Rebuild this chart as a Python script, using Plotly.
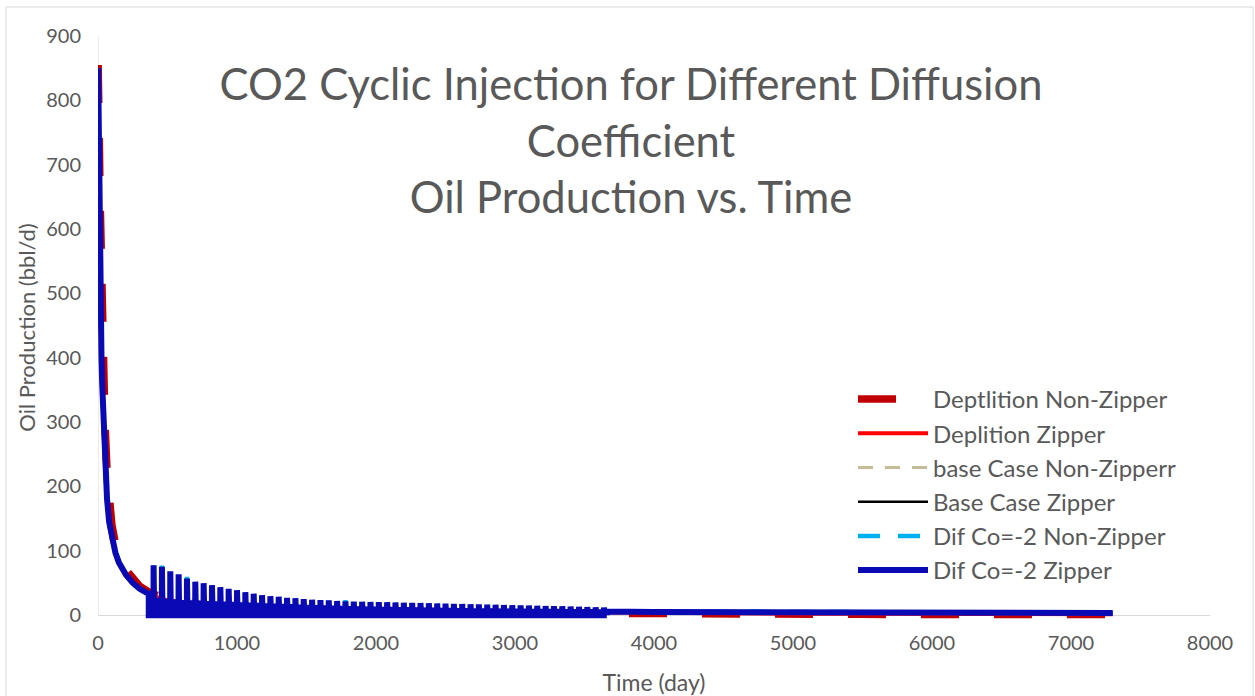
import plotly.graph_objects as go

# ---------------- data ----------------
early_days = [1, 3, 6, 10, 15, 20, 25, 30, 40, 50, 65, 80, 100, 125, 150, 200, 250, 300, 365]
# CO2 cases share the primary-depletion period before the first cycle
co2_early = [850, 790, 700, 600, 510, 450, 400, 360, 290, 235, 180, 145, 118, 97, 82, 63, 50, 41, 33]

dep_days = early_days + [500, 730, 1000, 1500, 2000, 2500, 3000, 3650, 4000, 4500, 5000,
                         5500, 6000, 6500, 7000, 7300]
dep_nz = [855, 840, 800, 730, 650, 580, 520, 465, 370, 300, 225, 178, 140, 112, 94, 71, 56, 45, 36,
          24, 16.5, 12, 8.5, 6.5, 5.0, 3.8, 2.8, 2.0, 1.7, 1.4, 1.2, 1.1, 1.0, 0.9, 0.9, 0.8]
dep_z = [845, 785, 695, 595, 505, 445, 395, 355, 285, 230, 176, 142, 116, 95, 80, 62, 49, 40, 32,
         23, 16, 12, 8.8, 7, 5.8, 4.9, 4.0, 3.0, 2.6, 2.3, 2.0, 1.8, 1.6, 1.5, 1.4]

# cyclic CO2 injection: 60-day cycles from day 365 to day 3665
cycle_start = [365 + 60 * k for k in range(55)]
dz_peak = [77.6, 75, 68, 63.5, 57, 52, 49.7, 46.6, 43.5, 41,
           38.8, 35.7, 33.4, 31, 29.5, 28.7, 27, 26.4, 25, 24,
           23.3, 23, 22, 21.5, 21, 20.8, 20.5, 20.2, 20, 19.7,
           19.4, 19.1, 18.8, 18.5, 18.2, 17.9, 17.6, 17.3, 17, 16.7,
           16.4, 16.1, 15.8, 15.5, 15.2, 14.9, 14.6, 14.3, 14, 13.7,
           13.4, 13.1, 12.7, 12.3, 11.8]
dnz_peak = [77, 77, 67.5, 63, 59.5, 51.5, 49.2, 46, 43, 40.5,
            38.3, 35.2, 33, 30.5, 29, 28.2, 26.5, 26, 24.5, 23.5,
            22.8, 22.5, 21.5, 23.5, 20.5, 20.3, 20, 19.7, 19.5, 19.2,
            18.9, 18.6, 18.3, 18, 17.7, 17.4, 17.1, 16.8, 16.5, 16.2,
            15.9, 15.6, 15.3, 15, 14.7, 14.4, 14.1, 13.8, 13.5, 13.2,
            12.9, 12.6, 12.2, 11.8, 11.3]
bz_peak = [70, 68, 62, 58, 52, 48, 45.5, 43, 40, 37.8,
           35.5, 33, 31, 29, 27.5, 26.5, 25, 24.3, 23, 22.2,
           21.5, 21.1, 20.3, 19.8, 19.4, 19.1, 18.8, 18.5, 18.3, 18,
           17.7, 17.4, 17.1, 16.8, 16.5, 16.2, 15.9, 15.6, 15.3, 15,
           14.7, 14.4, 14.1, 13.8, 13.5, 13.2, 12.9, 12.6, 12.3, 12,
           11.7, 11.4, 11.1, 10.8, 10.4]
bnz_peak = [69, 67, 61, 57, 51, 47, 44.5, 42, 39, 37,
            34.8, 32.4, 30.4, 28.5, 27, 26, 24.6, 23.9, 22.6, 21.8,
            21.1, 20.7, 19.9, 19.4, 19, 18.7, 18.4, 18.1, 17.9, 17.6,
            17.3, 17, 16.7, 16.4, 16.1, 15.8, 15.5, 15.2, 14.9, 14.6,
            14.3, 14, 13.7, 13.4, 13.1, 12.8, 12.5, 12.2, 11.9, 11.6,
            11.3, 11, 10.7, 10.4, 10]
cycle_low = [22, 21, 20, 19, 18.5, 18, 17.5, 17, 16.5, 16,
             15.5, 15, 14.5, 14, 13.5, 13, 12.5, 12, 11.5, 11,
             10.6, 10.2, 9.8, 9.5, 9.2, 8.9, 8.6, 8.4, 8.2, 8,
             7.8, 7.6, 7.4, 7.2, 7, 6.8, 6.6, 6.4, 6.2, 6,
             5.9, 5.8, 5.7, 5.6, 5.5, 5.4, 5.3, 5.2, 5.1, 5,
             4.9, 4.8, 4.7, 4.6, 4.5]

tail_days = [3665, 4000, 4500, 5000, 5500, 6000, 6500, 7000, 7300]
dz_tail = [5.6, 5.0, 4.6, 4.3, 4.0, 3.8, 3.6, 3.5, 3.4]
dnz_tail = [6.2, 5.6, 5.0, 4.6, 4.3, 4.1, 3.9, 3.7, 3.6]
bz_tail = [4.6, 4.1, 3.7, 3.4, 3.1, 2.9, 2.7, 2.6, 2.5]
bnz_tail = [4.4, 4.0, 3.6, 3.3, 3.0, 2.8, 2.6, 2.5, 2.4]

# schedule inside one cycle (days after cycle start): shut-in, reopen peak, decline
inj_end, peak_off, low_off, end_off = 34, 35, 38, 59


def cyclic_series(peaks, lows, tail):
    xs = list(early_days)
    ys = list(co2_early)
    for s, p, lo in zip(cycle_start, peaks, lows):
        xs += [s, s + inj_end, s + peak_off, s + low_off, s + end_off]
        ys += [0, 0, p, lo, lo]
    xs += tail_days
    ys += tail
    return xs, ys


FONT = "Lato, 'Open Sans', sans-serif"
GREY = "#595959"
AXIS = "#D9D9D9"

fig = go.Figure()
fig.add_trace(go.Scatter(x=dep_days, y=dep_nz, mode="lines", name="Deptlition Non-Zipper",
                         line=dict(color="#C00000", width=7.5, dash="38px,35px")))
fig.add_trace(go.Scatter(x=dep_days, y=dep_z, mode="lines", name="Deplition Zipper",
                         line=dict(color="#FF0000", width=4)))
x, y = cyclic_series(bnz_peak, cycle_low, bnz_tail)
fig.add_trace(go.Scatter(x=x, y=y, mode="lines", name="base Case Non-Zipperr",
                         line=dict(color="#C4BD97", width=3, dash="15px,12px")))
x, y = cyclic_series(bz_peak, cycle_low, bz_tail)
fig.add_trace(go.Scatter(x=x, y=y, mode="lines", name="Base Case Zipper",
                         line=dict(color="#000000", width=2.5)))
x, y = cyclic_series(dnz_peak, cycle_low, dnz_tail)
fig.add_trace(go.Scatter(x=x, y=y, mode="lines", name="Dif Co=-2 Non-Zipper",
                         line=dict(color="#00B0F0", width=4.5, dash="22px,18px")))
x, y = cyclic_series(dz_peak, cycle_low, dz_tail)
fig.add_trace(go.Scatter(x=x, y=y, mode="lines", name="Dif Co=-2 Zipper",
                         line=dict(color="#0A0AB4", width=6)))

# value 0 sits at y=615 px, 900 at y=36 px; a little room below 0 so thick lines are not cut
W, H = 1255, 696
L, R, T = 98, 45, 36
px_per = (615 - 36) / 900
y_min = -6
B = H - int(round(615 + (-y_min) * px_per))
pw, ph = W - L - R, H - T - B


def py(pix):  # pixel row -> paper fraction
    return (H - B - pix) / ph


fig.update_layout(
    width=W, height=H,
    margin=dict(l=L, r=R, t=T, b=B, autoexpand=False),
    paper_bgcolor="white", plot_bgcolor="white",
    font=dict(family=FONT, color=GREY, size=20),
    title=dict(text="CO2 Cyclic Injection for Different Diffusion<br>Coefficient<br>Oil Production vs. Time",
               x=631 / W, xanchor="center", y=1 - 100 / H, yanchor="top",
               font=dict(family=FONT, size=43.5, color=GREY)),
    xaxis=dict(range=[0, 8000], dtick=1000, showgrid=False, zeroline=False,
               showline=False, ticks="", automargin=False,
               ticklabelstandoff=10,
               tickfont=dict(size=20, color=GREY),
               title=dict(text="Time (day)", font=dict(size=23, color=GREY), standoff=21)),
    yaxis=dict(range=[y_min, 900], tick0=0, dtick=100, showgrid=False,
               zeroline=True, zerolinecolor=AXIS, zerolinewidth=1,
               showline=False, ticks="", automargin=False,
               ticklabelstandoff=16,
               tickfont=dict(size=20, color=GREY),
               title=dict(text="Oil Production (bbl/d)", font=dict(size=22, color=GREY), standoff=4)),
    legend=dict(x=(853 - L) / pw, xanchor="left", y=py(377), yanchor="top",
                bgcolor="rgba(0,0,0,0)", font=dict(size=24, color=GREY),
                itemwidth=70, tracegroupgap=0),
    showlegend=True,
    shapes=[
        dict(type="line", xref="x", yref="y", x0=0, x1=0, y0=0, y1=900,
             line=dict(color=AXIS, width=1), layer="below"),
        dict(type="rect", xref="paper", yref="paper",
             x0=(6 - L) / pw, x1=(1253 - L) / pw, y0=py(700), y1=py(7),
             line=dict(color=AXIS, width=1), fillcolor="rgba(0,0,0,0)", layer="below"),
    ],
)

fig.write_html("out.html", config={"displayModeBar": False})
